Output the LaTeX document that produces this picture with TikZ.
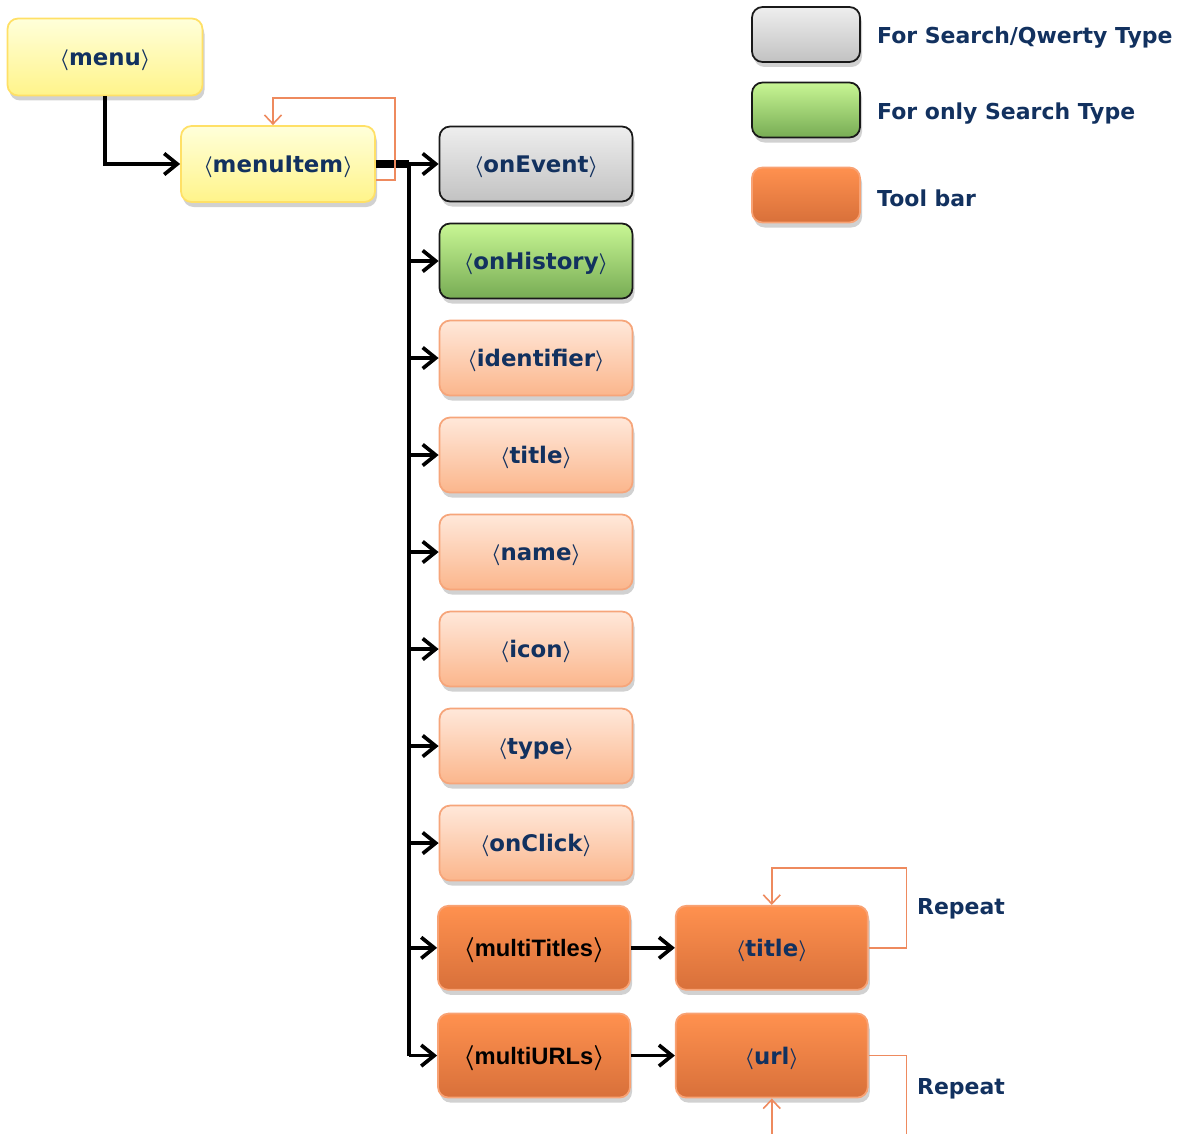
\documentclass[tikz,border=0pt]{standalone}
\usepackage{fontspec}
\setmainfont{DejaVu Sans}
\newfontfamily\narrowfont{Liberation Sans}
\usetikzlibrary{positioning, shadows, arrows.meta}

\definecolor{navy}{HTML}{12315F}
\definecolor{yellowtop}{HTML}{FFFFDA}
\definecolor{yellowbot}{HTML}{FFF48A}
\definecolor{yellowline}{HTML}{FFE066}
\definecolor{graytop}{HTML}{EEEEEE}
\definecolor{graybot}{HTML}{C2C2C2}
\definecolor{greentop}{HTML}{C8F694}
\definecolor{greenbot}{HTML}{77AC54}
\definecolor{peachtop}{HTML}{FFE8DA}
\definecolor{peachbot}{HTML}{FBB68C}
\definecolor{peachline}{HTML}{F6A57A}
\definecolor{orangetop}{HTML}{FF914F}
\definecolor{orangebot}{HTML}{D8703A}
\definecolor{orangeline}{HTML}{F8A274}
\definecolor{loopcol}{HTML}{EE8A5E}

\newcommand{\tagname}[1]{{\boldmath$\langle$}#1{\boldmath$\rangle$}}

\begin{document}
\begin{tikzpicture}
% STYLES
\tikzset{%
    tag/.style={%
rectangle,
rounded corners=6pt,
line width=1pt,
minimum width=3.86cm,
minimum height=1.5cm,
inner sep=2pt,
text height=11.5pt,
text depth=1.5pt,
text=navy,
font=\bfseries\fontsize{13}{15}\selectfont,
drop shadow={shadow xshift=0.4mm, shadow yshift=-1mm, opacity=0.3, fill=black!60}
                },
    yellowtag/.style={tag, draw=yellowline, top color=yellowtop, bottom color=yellowbot},
    graytag/.style={tag, draw=black!90, top color=graytop, bottom color=graybot},
    greentag/.style={tag, draw=black!90, top color=greentop, bottom color=greenbot},
    peachtag/.style={tag, draw=peachline, top color=peachtop, bottom color=peachbot},
    orangetag/.style={tag, draw=orangeline, top color=orangetop, bottom color=orangebot,
minimum width=3.84cm, minimum height=1.68cm, text=black,
font=\narrowfont\bfseries\fontsize{13.5}{15}\selectfont},
    legendtag/.style={minimum width=2.16cm, minimum height=1.1cm},
    legendtext/.style={inner sep=0pt, text=navy, font=\bfseries\fontsize{12.5}{14}\selectfont},
    flow/.style={-{Straight Barb[length=2.6mm,width=4.2mm]}, line width=2.1pt},
    repeatline/.style={draw=loopcol, line width=0.9pt},
    repeatarrow/.style={repeatline, -{Straight Barb[length=1.8mm,width=3.4mm]}}
             }

\useasboundingbox (0,0) rectangle (23.74,-22.66);

% Draw tree
\node [yellowtag, minimum width=3.9cm, minimum height=1.54cm] (menu) at (2.10,-1.14) {\tagname{menu}};
\node [yellowtag, minimum width=3.88cm, minimum height=1.52cm] (menuItem) at (5.56,-3.28) {\tagname{menuItem}};
\node [graytag] (onEvent) at (10.72,-3.28) {\tagname{onEvent}};
\node [greentag, below=0.405cm of onEvent] (onHistory) {\tagname{onHistory}};
\node [peachtag, below=0.405cm of onHistory] (identifier) {\tagname{identifier}};
\node [peachtag, below=0.405cm of identifier] (title) {\tagname{title}};
\node [peachtag, below=0.405cm of title] (name) {\tagname{name}};
\node [peachtag, below=0.405cm of name] (icon) {\tagname{icon}};
\node [peachtag, below=0.405cm of icon] (type) {\tagname{type}};
\node [peachtag, below=0.405cm of type] (onClick) {\tagname{onClick}};
\node [orangetag, below=0.47cm of onClick, xshift=-0.04cm] (multiTitles) {\tagname{multiTitles}};
\node [orangetag, below=0.44cm of multiTitles] (multiURLs) {\tagname{multiURLs}};
\node [orangetag, right=0.88cm of multiTitles, text=navy, font=\bfseries\fontsize{13}{15}\selectfont] (titleItem) {\tagname{title}};
\node [orangetag, right=0.88cm of multiURLs, text=navy, font=\bfseries\fontsize{13}{15}\selectfont] (urlItem) {\tagname{url}};

% Draw legend
\node [graytag, legendtag] (legendGray) at (16.12,-0.69) {};
\node [greentag, legendtag] (legendGreen) at (16.12,-2.20) {};
\node [orangetag, legendtag] (legendOrange) at (16.12,-3.90) {};
\node [legendtext, right=0.32cm of legendGray, yshift=-0.07cm] (legendGrayText) {For Search/Qwerty Type};
\node [legendtext, right=0.32cm of legendGreen, yshift=-0.07cm] (legendGreenText) {For only Search Type};
\node [legendtext, right=0.32cm of legendOrange, yshift=-0.07cm] (legendOrangeText) {Tool bar};

% Draw the links
\coordinate (trunk) at ([xshift=0.66cm]menuItem.east);
\draw[flow] (menu.south) |- (menuItem.west);
\draw[line width=4pt] (menuItem.east) -- (trunk);
\draw[line width=2.6pt] (trunk) -- (trunk |- multiURLs.west);
\path[flow]
(menuItem.east) edge (onEvent.west)
(trunk |- onHistory.west) edge (onHistory.west)
(trunk |- identifier.west) edge (identifier.west)
(trunk |- title.west) edge (title.west)
(trunk |- name.west) edge (name.west)
(trunk |- icon.west) edge (icon.west)
(trunk |- type.west) edge (type.west)
(trunk |- onClick.west) edge (onClick.west)
(trunk |- multiTitles.west) edge (multiTitles.west)
(trunk |- multiURLs.west) edge (multiURLs.west)
(multiTitles) edge (titleItem)
(multiURLs) edge (urlItem);

% Draw the repeat loops
\draw[repeatarrow] ([yshift=-0.32cm]menuItem.east) -- ++(0.38,0) -- ++(0,1.64) -| ([xshift=-0.1cm]menuItem.north);
\draw[repeatarrow] (titleItem.east) -- ++(0.76,0) -- ++(0,1.6) -| (titleItem.north);
\draw[repeatline] (urlItem.east) -- ++(0.76,0) -- ++(0,-1.62);
\draw[repeatarrow] ([yshift=-0.72cm]urlItem.south) -- (urlItem.south);
\node [legendtext] (repeatTitle) at (19.22,-18.18) {Repeat};
\node [legendtext] (repeatURL) at (19.22,-21.78) {Repeat};
\end{tikzpicture}
\end{document}
